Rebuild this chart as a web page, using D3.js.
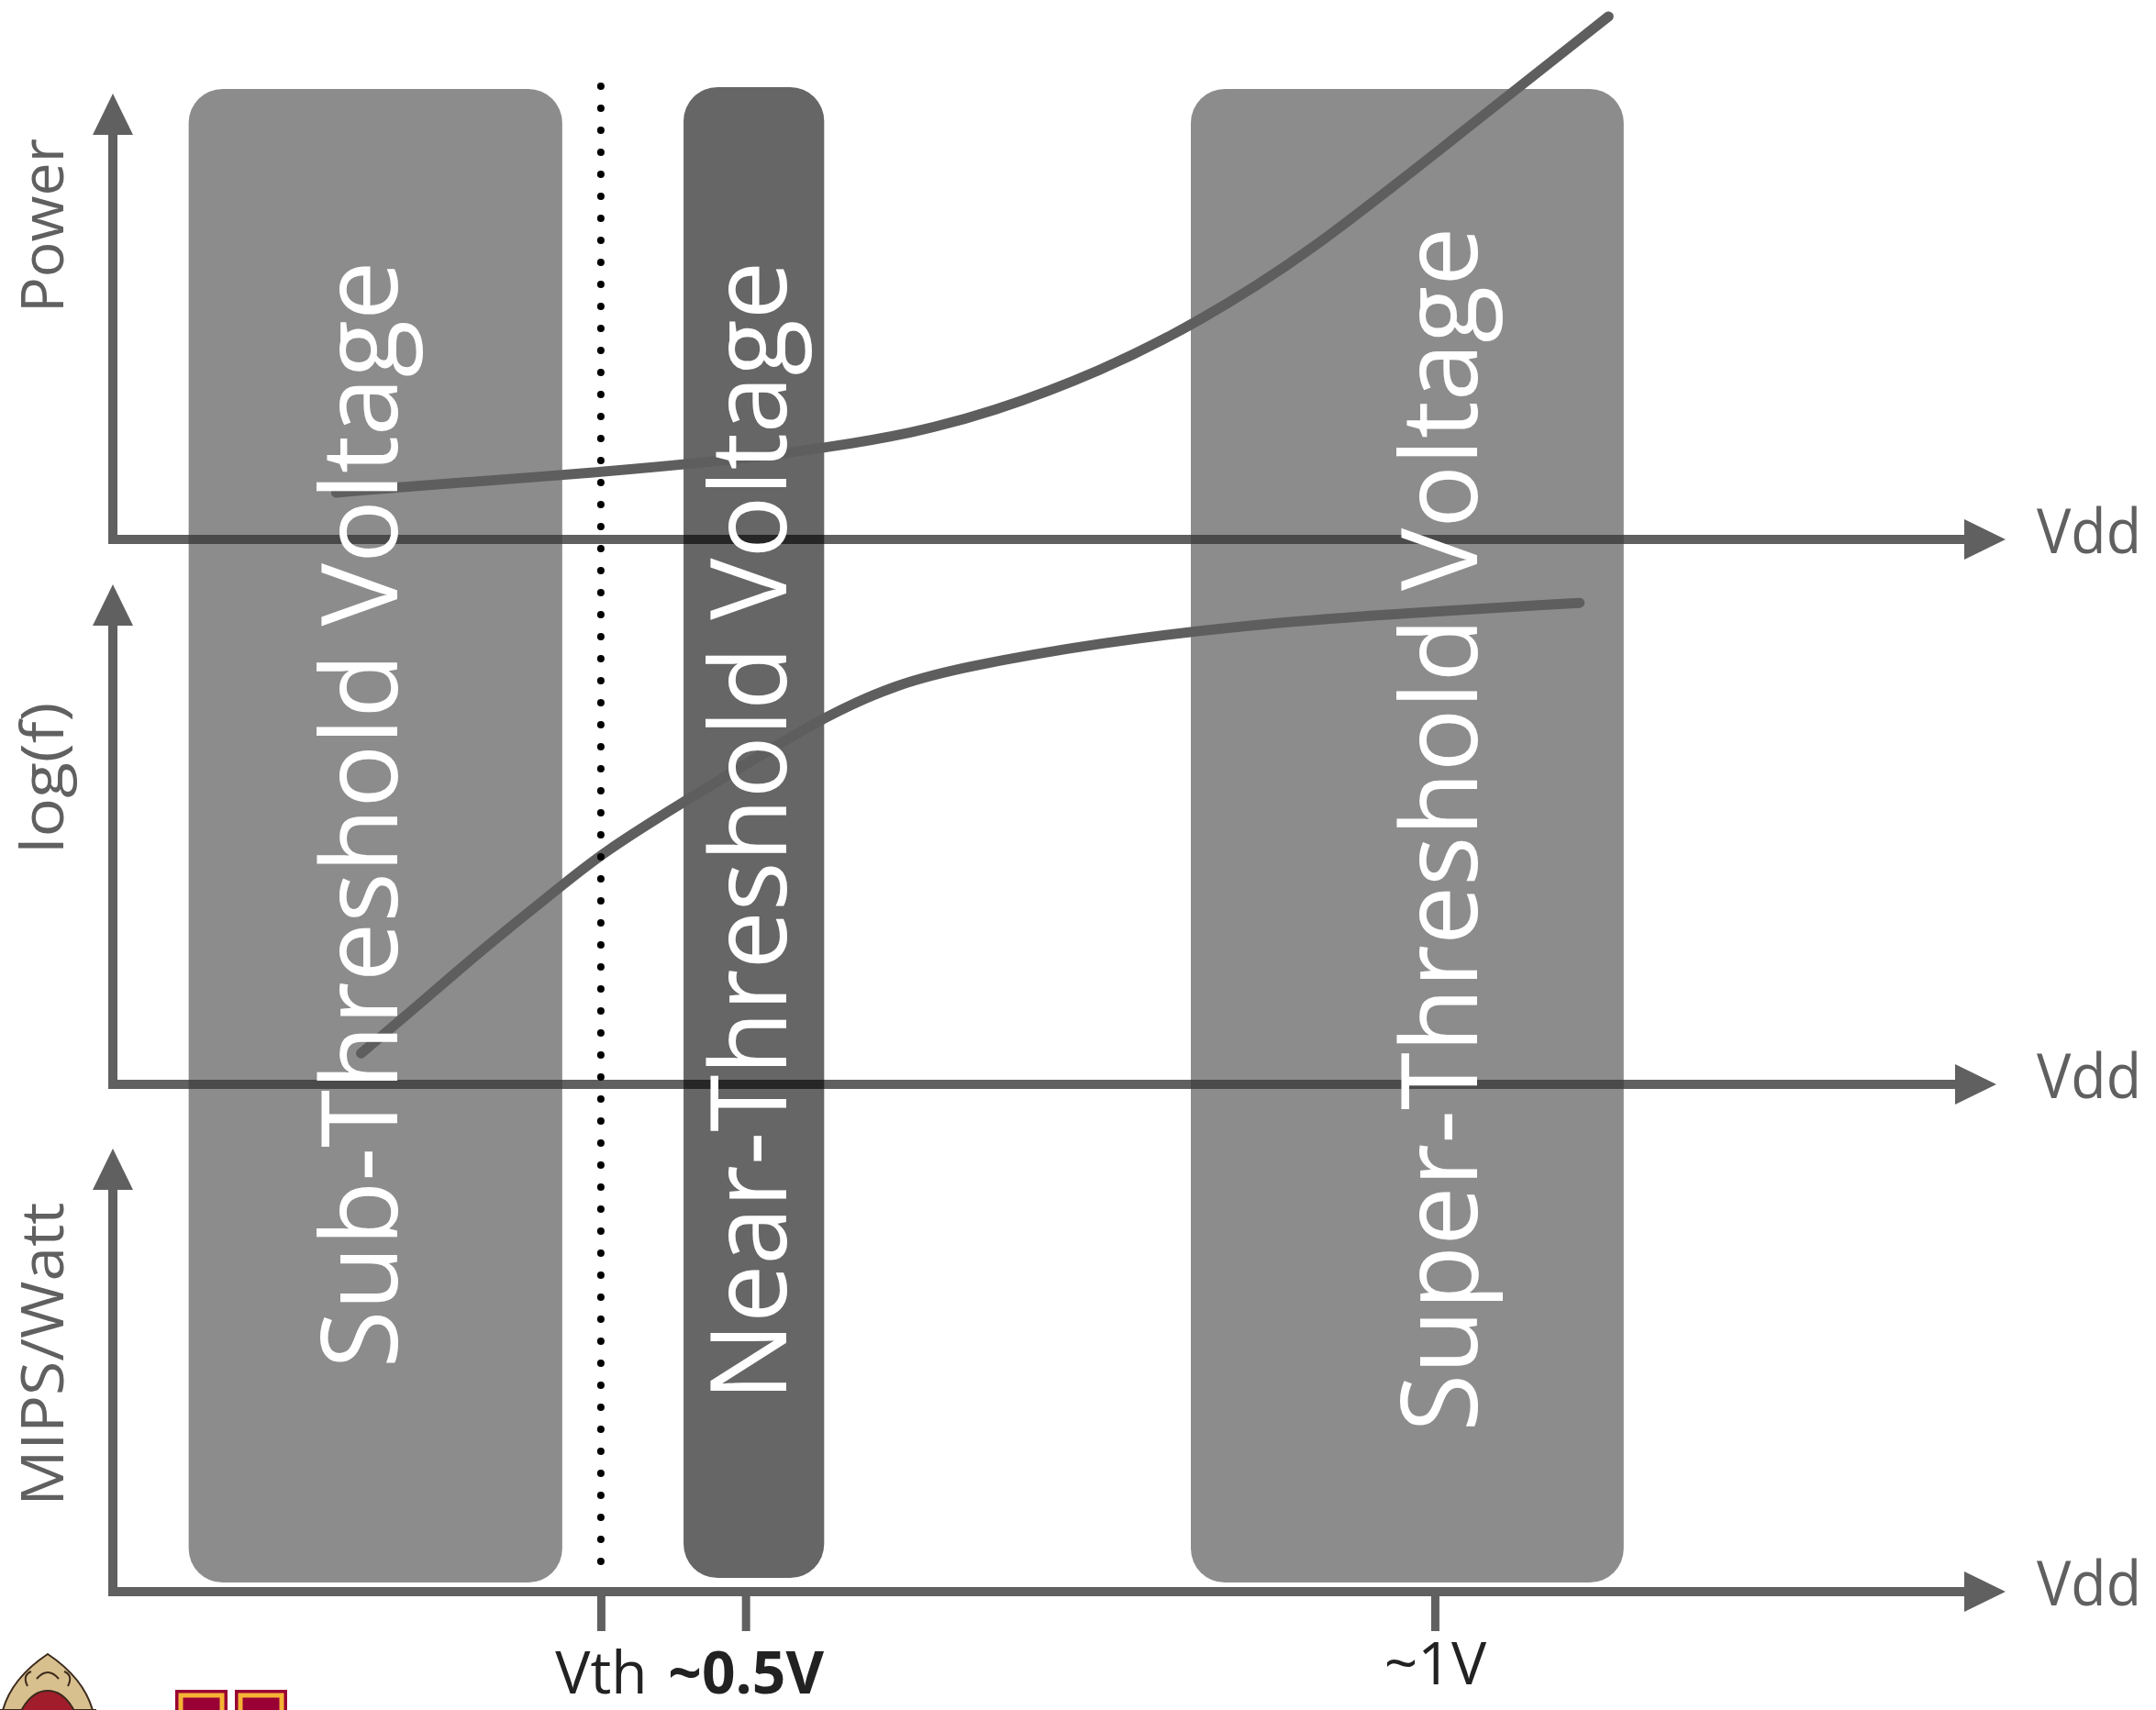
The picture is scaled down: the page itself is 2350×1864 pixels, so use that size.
<!DOCTYPE html>
<html>
<head>
<meta charset="utf-8">
<script src="https://cdn.jsdelivr.net/npm/d3@7"></script>
<style>
  html, body { margin: 0; padding: 0; background: #ffffff; }
  svg { display: block; }
</style>
</head>
<body>
<script>
// ---- data (Vdd in volts, curve values normalised to panel height) ----
const regionNames = ["Sub-Threshold Voltage", "Near-Threshold Voltage", "Super-Threshold Voltage"];
const regionStart = [0.096, 0.455, 0.823];
const regionEnd = [0.367, 0.557, 1.137];

const tickLabels = ["Vth", "~0.5V", "~1V"];
const tickValues = [0.395, 0.5, 1.0];
const vthValue = 0.395;

const panelLabels = ["Power", "log(f)", "MIPS/Watt"];
const axisEndLabel = "Vdd";

const powerVdd = [0.203, 0.246, 0.395, 0.499, 0.559, 0.619, 0.678, 0.758, 0.828, 0.908, 1.008, 1.126];
const powerValues = [0.105, 0.117, 0.150, 0.181, 0.206, 0.237, 0.284, 0.377, 0.486, 0.640, 0.885, 1.173];

const freqVdd = [0.221, 0.259, 0.309, 0.359, 0.395, 0.459, 0.509, 0.559, 0.609, 0.658, 0.758, 0.858, 0.958, 1.105];
const freqValues = [0.062, 0.150, 0.270, 0.380, 0.462, 0.572, 0.655, 0.738, 0.800, 0.835, 0.884, 0.917, 0.939, 0.963];

// ---- layout ----
let width = 2350;
let height = 1864;
let axisColor = "#606060";
let axisLeft = 123;
let axisStroke = 10;
let arrowLen = 45;
let arrowHalf = 22;
let font = "'Open Sans', 'Noto Sans', 'DejaVu Sans', sans-serif";

let panels = [
    { base: 588, tip: 102, end: 2186, labelY: 246, labelLen: 190 },
    { base: 1182, tip: 637, end: 2176, labelY: 848, labelLen: 165 },
    { base: 1735, tip: 1252, end: 2186, labelY: 1476, labelLen: 331 }
];

// rect styling per region (top, bottom, fill, opacity, label baseline x, label centre y, label length)
let regionStyle = [
    { top: 97, bottom: 1725, fill: "#3a3a3a", opacity: 0.585, labelX: 433, labelY: 888, labelLen: 1207 },
    { top: 95, bottom: 1720, fill: "#000000", opacity: 0.6, labelX: 857, labelY: 906, labelLen: 1242 },
    { top: 97, bottom: 1725, fill: "#3a3a3a", opacity: 0.585, labelX: 1610, labelY: 904, labelLen: 1313 }
];

let svg = d3.select("body").append("svg")
    .attr("width", width)
    .attr("height", height)
    .attr("viewBox", `0 0 ${width} ${height}`);

let x = d3.scaleLinear()
    .domain([0.041, 1.414])
    .range([axisLeft, 2186]);

let yScales = panels.map(p => d3.scaleLinear().domain([0, 1]).range([p.base, p.tip]));

// ---- axes with arrow heads ----
let axesG = svg.append("g");
panels.forEach(p => {
    axesG.append("path")
        .attr("fill", "none")
        .attr("stroke", axisColor)
        .attr("stroke-width", axisStroke)
        .attr("d", `M${axisLeft},${p.tip + arrowLen - 2}V${p.base}H${p.end - arrowLen + 2}`);
    // up arrow
    axesG.append("path")
        .attr("fill", axisColor)
        .attr("d", `M${axisLeft},${p.tip}L${axisLeft + arrowHalf},${p.tip + arrowLen}L${axisLeft - arrowHalf},${p.tip + arrowLen}Z`);
    // right arrow
    axesG.append("path")
        .attr("fill", axisColor)
        .attr("d", `M${p.end},${p.base}L${p.end - arrowLen},${p.base - arrowHalf}L${p.end - arrowLen},${p.base + arrowHalf}Z`);
});

// ---- voltage regions ----
let regions = regionNames.map((name, i) => ({ name, start: regionStart[i], end: regionEnd[i], style: regionStyle[i] }));

svg.append("g").selectAll("rect")
    .data(regions)
    .enter()
    .append("rect")
    .attr("x", d => x(d.start))
    .attr("width", d => x(d.end) - x(d.start))
    .attr("y", d => d.style.top)
    .attr("height", d => d.style.bottom - d.style.top)
    .attr("rx", 37)
    .attr("ry", 37)
    .attr("fill", d => d.style.fill)
    .attr("fill-opacity", d => d.style.opacity);

// ---- curves ----
let curves = [
    { panel: 0, pts: d3.zip(powerVdd, powerValues) },
    { panel: 1, pts: d3.zip(freqVdd, freqValues) }
];

curves.forEach(c => {
    let y = yScales[c.panel];
    let line = d3.line()
        .x(d => x(d[0]))
        .y(d => y(d[1]))
        .curve(d3.curveBasis);
    svg.append("path")
        .datum(c.pts)
        .attr("fill", "none")
        .attr("stroke", "#5e5e5e")
        .attr("stroke-width", 11)
        .attr("stroke-linecap", "round")
        .attr("d", line);
});

// ---- region labels ----
svg.append("g").selectAll("text")
    .data(regions)
    .enter()
    .append("text")
    .attr("transform", d => `translate(${d.style.labelX},${d.style.labelY}) rotate(-90)`)
    .attr("text-anchor", "middle")
    .attr("font-family", font)
    .attr("font-size", 116)
    .attr("fill", "#ffffff")
    .attr("textLength", d => d.style.labelLen)
    .attr("lengthAdjust", "spacingAndGlyphs")
    .text(d => d.name);

// ---- Vth dotted line ----
svg.append("line")
    .attr("x1", x(vthValue))
    .attr("x2", x(vthValue))
    .attr("y1", 94)
    .attr("y2", 1712)
    .attr("stroke", "#000000")
    .attr("stroke-width", 8)
    .attr("stroke-linecap", "round")
    .attr("stroke-dasharray", "0 24");

// ---- bottom ticks ----
let tickOffsets = [108, 108, 98];
let xAxis = g => g
    .attr("transform", `translate(0, ${panels[2].base + 3})`)
    .call(d3.axisBottom(x).tickValues(tickValues).tickFormat((d, i) => tickLabels[i]).tickSize(40).tickPadding(0))
    .call(g => g.select(".domain").remove());

let tickG = svg.append("g").call(xAxis);
tickG.selectAll(".tick line")
    .attr("stroke", axisColor)
    .attr("stroke-width", 9);
tickG.selectAll(".tick text")
    .attr("y", (d, i) => tickOffsets[i])
    .attr("dy", 0)
    .attr("fill", "#222222")
    .attr("font-family", font)
    .attr("font-size", 64)
    .attr("font-weight", (d, i) => i === 1 ? "bold" : "normal");

// ---- axis titles ----
panels.forEach((p, i) => {
    svg.append("text")
        .attr("transform", `translate(69,${p.labelY}) rotate(-90)`)
        .attr("text-anchor", "middle")
        .attr("font-family", font)
        .attr("font-size", 64)
        .attr("fill", axisColor)
        .attr("textLength", p.labelLen)
        .attr("lengthAdjust", "spacingAndGlyphs")
        .text(panelLabels[i]);

    svg.append("text")
        .attr("x", 2220)
        .attr("y", p.base + 15)
        .attr("font-family", font)
        .attr("font-size", 68)
        .attr("fill", axisColor)
        .attr("textLength", 114)
        .attr("lengthAdjust", "spacingAndGlyphs")
        .text(axisEndLabel);
});

// ---- logos (cropped at the page bottom) ----
let logoG = svg.append("g");
logoG.append("path")
    .attr("d", "M52,1803 C70,1815 100,1840 104,1880 L104,1864 L0,1864 L0,1880 C4,1840 34,1815 52,1803 Z")
    .attr("fill", "#d8bf8e")
    .attr("stroke", "#3b2a1c")
    .attr("stroke-width", 2);
logoG.append("ellipse")
    .attr("cx", 52).attr("cy", 1905)
    .attr("rx", 38).attr("ry", 62)
    .attr("fill", "#a11d2b")
    .attr("stroke", "#3b2a1c")
    .attr("stroke-width", 2);
logoG.append("path")
    .attr("d", "M40,1830 q12,-14 24,0 M30,1838 q-6,-12 4,-16 M74,1838 q6,-12 -4,-16")
    .attr("fill", "none")
    .attr("stroke", "#3b2a1c")
    .attr("stroke-width", 2);
[191, 256].forEach(lx => {
    logoG.append("rect")
        .attr("x", lx).attr("y", 1842)
        .attr("width", 57).attr("height", 40)
        .attr("fill", "#990033");
    logoG.append("rect")
        .attr("x", lx + 6).attr("y", 1848)
        .attr("width", 45).attr("height", 40)
        .attr("fill", "none")
        .attr("stroke", "#f5b335")
        .attr("stroke-width", 5);
});
</script>
</body>
</html>
